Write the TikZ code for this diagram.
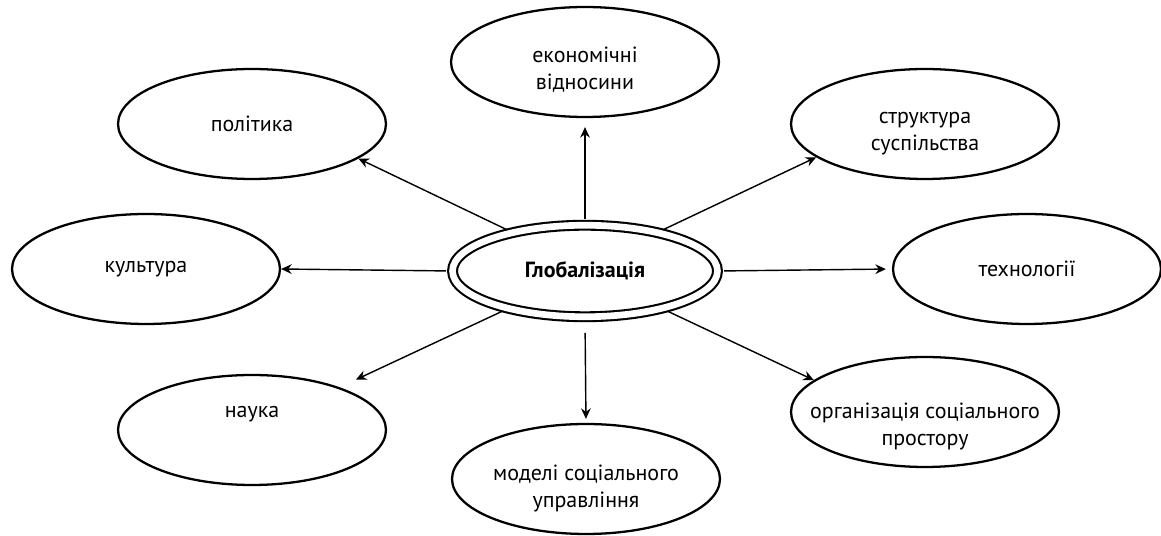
\documentclass[tikz,border=0pt]{standalone}
\usepackage{fontspec}
\setmainfont{PT Sans}
\usetikzlibrary{arrows.meta,shapes.geometric}
\def\lift#1{\rule{0pt}{#1}}

\begin{document}
\begin{tikzpicture}[x=0.02cm, y=-0.02cm,
		every node/.style={font=\fontsize{12.5}{15.4}\selectfont},
		topic/.style={ellipse, draw, line width=1.3pt, minimum width=5.36cm, minimum height=2.2cm, inner sep=-0.6cm, align=center},
		hub/.style={ellipse, draw, double, line width=1.2pt, double distance=3.8pt, minimum width=5.3cm, minimum height=1.83cm, inner sep=-0.3cm, font=\fontsize{12.5}{15}\selectfont\bfseries},
		link/.style={-{Stealth[length=6pt, width=5.5pt, inset=2pt]}, line width=0.8pt, shorten <=0.11cm}]
		%%%%% START %%%%%
		
		\useasboundingbox (0, 0) rectangle (1161, 536);
		
		\node[hub] (glob) at (585, 271) {Глобалізація};
		
		\node[topic] (ek) at (585, 62) {\lift{0.6cm}економічні\\відносини};
		\node[topic] (pol) at (252, 124) {політика};
		\node[topic] (str) at (925, 124) {\lift{0.6cm}структура\\суспільства};
		\node[topic] (kul) at (146, 269) {культура};
		\node[topic] (tech) at (1027, 269) {технології};
		\node[topic, text depth=0.72cm] (nauka) at (252, 430) {наука};
		\node[topic] (mod) at (586, 479) {\lift{0.68cm}моделі соціального\\управління};
		\node[topic] (org) at (925, 412) {\lift{0.88cm}організація соціального\\простору};
		
		\draw[link, shorten >=0.18cm] (glob.90) -- (ek.south);
		\draw[link] (glob.152) -- (pol.-18);
		\draw[link] (glob.28) -- (str.197);
		\draw[link] (glob.180) -- (kul.east);
		\draw[link, shorten >=0.12cm] (glob.0) -- (tech.west);
		\draw[link, shorten >=0.36cm] (glob.206) -- (nauka.26);
		\draw[link, shorten <=0.3cm, shorten >=0.08cm] (glob.270) -- (mod.north);
		\draw[link] (glob.334) -- (org.164);
		
		%%%%% END %%%%%
\end{tikzpicture}
\end{document}
